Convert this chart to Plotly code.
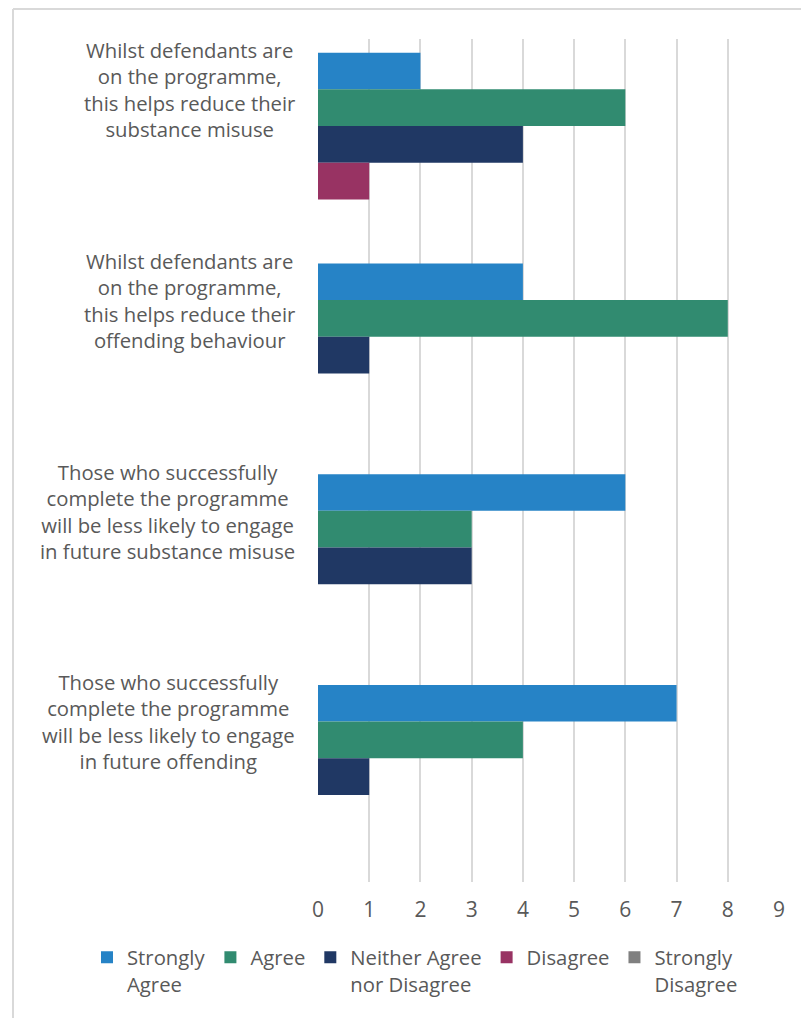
import plotly.graph_objects as go

# Survey statements (top to bottom)
statements = [
    "Whilst defendants are<br>on the programme,<br>this helps reduce their<br>substance misuse",
    "Whilst defendants are<br>on the programme,<br>this helps reduce their<br>offending behaviour",
    "Those who successfully<br>complete the programme<br>will be less likely to engage<br>in future substance misuse",
    "Those who successfully<br>complete the programme<br>will be less likely to engage<br>in future offending",
]
category_ids = ["Q1", "Q2", "Q3", "Q4"]

# Response counts per statement
strongly_agree = [2, 4, 6, 7]
agree = [6, 8, 3, 4]
neither = [4, 1, 3, 1]
disagree = [1, 0, 0, 0]
strongly_disagree = [0, 0, 0, 0]

series_names = ["Strongly<br>Agree", "Agree", "Neither Agree<br>nor Disagree",
                "Disagree", "Strongly<br>Disagree"]
series_values = [strongly_agree, agree, neither, disagree, strongly_disagree]
series_colors = ["#2683C6", "#318B70", "#203864", "#983363", "#808080"]

x_ticks = list(range(0, 10))

TEXT = "#595959"
FONT = "Open Sans"
LABEL_FS = 20.3
TICK_FS = 21
LEGEND_FS = 20.3

fig = go.Figure()
for name, vals, col in zip(series_names, series_values, series_colors):
    fig.add_trace(go.Bar(
        y=category_ids, x=vals, name=name, orientation="h",
        marker=dict(color=col, line=dict(width=0)),
    ))

W, H = 801, 1018
L, R, T, B = 318, 22, 39, 136
pw = W - L - R
ph = H - T - B

# Category labels, top-aligned in each band and centred line by line
annotations = []
for i, s in enumerate(statements):
    annotations.append(dict(
        text=s, x=0, xref="paper", xanchor="right", xshift=-21,
        y=i - 0.5, yref="y", yanchor="top", yshift=5,
        align="center", showarrow=False,
        font=dict(family=FONT, size=LABEL_FS, color=TEXT),
    ))

# Light frame along the left and top edges of the chart area
fx0 = (13 - L) / pw
fy1 = 1 + (T - 9) / ph
frame = [
    dict(type="line", xref="paper", yref="paper", x0=fx0, x1=fx0,
         y0=-2, y1=fy1, line=dict(color="#D9D9D9", width=2), layer="below"),
    dict(type="line", xref="paper", yref="paper", x0=fx0, x1=2,
         y0=fy1, y1=fy1, line=dict(color="#D9D9D9", width=2), layer="below"),
]

fig.update_layout(
    width=W, height=H,
    margin=dict(l=L, r=R, t=T, b=B, pad=0, autoexpand=False),
    paper_bgcolor="white", plot_bgcolor="white",
    barmode="group", bargap=0.13, bargroupgap=0,
    font=dict(family=FONT, size=LABEL_FS, color=TEXT),
    xaxis=dict(
        range=[0, 9], tickvals=x_ticks, showgrid=True, gridcolor="#D9D9D9",
        gridwidth=1.5, zeroline=False, showline=False, ticks="",
        ticklabelstandoff=13,
        tickfont=dict(family=FONT, size=TICK_FS, color=TEXT), fixedrange=True,
    ),
    yaxis=dict(
        range=[3.5, -0.5], showticklabels=False, showgrid=False,
        zeroline=False, showline=False, ticks="", fixedrange=True,
    ),
    legend=dict(
        orientation="h", x=(87 - L) / pw, xanchor="left", y=-0.066,
        yanchor="top", font=dict(family=FONT, size=LEGEND_FS, color=TEXT),
        itemwidth=30, traceorder="normal", valign="top",
    ),
    annotations=annotations,
    shapes=frame,
)

fig.write_html("out.html")
